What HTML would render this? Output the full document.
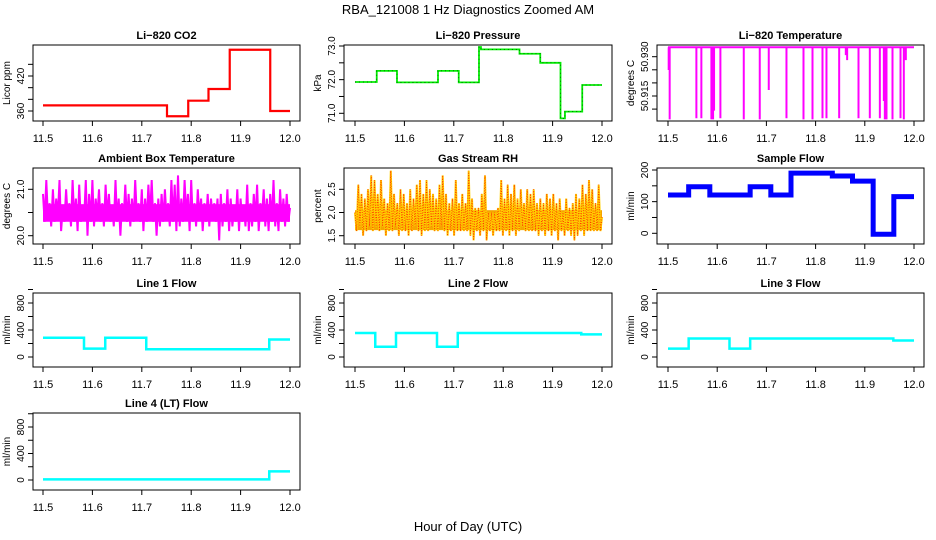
<!DOCTYPE html>
<html><head><meta charset="utf-8"><style>
html,body{margin:0;padding:0;background:#fff;}
svg{display:block;font-family:"Liberation Sans",Helvetica,sans-serif;}
</style></head><body>
<svg id="c" width="936" height="540" viewBox="0 0 936 540">
<text x="468" y="14" text-anchor="middle" font-size="13">RBA_121008  1 Hz Diagnostics Zoomed AM</text>
<text x="468" y="531" text-anchor="middle" font-size="13">Hour of Day (UTC)</text>
</svg>
<script>
const xTicks=[11.5,11.6,11.7,11.8,11.9,12.0];
const xTickLabels=["11.5","11.6","11.7","11.8","11.9","12.0"];
const co2Times=[11.5,11.751,11.794,11.835,11.878,11.960,12.0];
const co2Values=[369.7,351,377.7,397.7,465,360];
const presTimes=[11.5,11.544,11.585,11.668,11.710,11.751,11.755,11.833,11.875,11.916,11.925,11.960,12.0];
const presValues=[71.93,72.26,71.92,72.26,71.92,72.97,72.90,72.77,72.50,70.85,71.05,71.84];
const tempSpikeTimes=[11.5014,11.5034,11.5577,11.5678,11.5882,11.5916,11.5936,11.6065,11.6540,11.6865,11.7048,11.7408,11.7754,11.7937,11.8140,11.8221,11.8479,11.8614,11.8641,11.8872,11.9102,11.9306,11.9387,11.9407,11.9441,11.9563,11.9726,11.9793,11.9834];
const tempSpikeValues=[50.9249,50.9061,50.9065,50.9065,50.9061,50.9061,50.9094,50.9065,50.9061,50.9061,50.9173,50.9065,50.9061,50.9061,50.9065,50.9065,50.9065,50.9306,50.9287,50.9065,50.9065,50.9065,50.9131,50.9061,50.9061,50.9061,50.9065,50.9061,50.9287];
const tempBase=50.9336;
const ambientValues=[20.9,20.3,21.2,20.4,20.7,20.2,21.0,20.3,20.8,20.4,21.2,20.1,20.6,20.3,21.0,20.4,20.7,20.2,21.2,20.3,20.8,20.1,21.1,20.3,20.6,20.4,21.2,20.0,20.9,20.3,21.2,20.2,20.8,20.4,21.0,20.3,20.7,20.2,21.1,20.4,20.9,20.3,20.6,20.2,21.2,20.3,20.8,20.0,20.7,20.4,21.1,20.3,20.9,20.2,20.8,20.3,21.2,20.4,20.7,20.3,21.0,20.1,20.8,20.3,21.1,20.4,21.2,20.3,20.7,20.0,20.8,20.2,20.9,20.3,21.0,20.4,20.7,20.2,21.2,20.3,21.1,20.1,21.3,20.2,20.8,20.3,21.2,20.4,20.9,20.1,21.2,20.3,20.7,20.2,21.0,20.4,20.8,20.1,20.7,20.3,20.9,20.2,20.8,20.4,20.7,20.3,20.8,19.9,20.9,20.2,20.7,20.3,21.0,20.1,20.8,20.2,20.6,20.3,21.0,20.1,20.8,20.3,20.6,20.2,21.1,20.1,20.7,20.2,20.9,20.3,21.1,20.1,20.7,20.4,21.0,20.2,20.8,20.1,20.9,20.3,21.2,20.2,20.7,20.1,21.0,20.3,20.8,20.2,20.9,20.3,20.6];
const ambientBand=[20.3,20.68];
const rhValues=[2.0,1.6,2.6,1.7,2.4,1.5,2.3,1.6,2.5,1.7,2.8,1.6,2.7,1.7,2.4,1.6,2.7,1.7,2.3,1.5,2.2,1.6,2.9,1.6,2.4,1.7,2.2,1.5,2.5,1.6,2.4,1.6,2.2,1.5,2.5,1.6,2.3,1.7,2.6,1.6,2.7,1.5,2.4,1.6,2.7,1.6,2.5,1.7,2.4,1.6,2.3,1.6,2.6,1.7,2.8,1.6,2.4,1.5,2.2,1.6,2.3,1.5,2.7,1.6,2.2,1.6,2.4,1.6,2.2,1.6,2.9,1.5,2.3,1.4,2.1,1.6,2.1,1.5,2.4,1.6,2.8,1.4,2.0,1.6,2.0,1.5,2.0,1.6,2.1,1.6,2.7,1.5,2.3,1.6,2.6,1.5,2.4,1.6,2.6,1.5,2.3,1.6,2.5,1.7,2.2,1.6,2.5,1.6,2.4,1.6,2.5,1.6,2.2,1.5,2.3,1.6,2.2,1.5,2.4,1.6,2.3,1.5,2.4,1.6,2.2,1.4,2.3,1.6,2.0,1.5,2.3,1.6,2.1,1.5,2.2,1.4,2.4,1.5,2.3,1.6,2.6,1.5,2.4,1.6,2.7,1.6,2.5,1.6,2.2,1.6,2.6,1.6,1.9];
const rhBand=[1.62,2.05];
const sampleTimes=[11.5,11.542,11.585,11.667,11.709,11.750,11.834,11.875,11.917,11.959,12.0];
const sampleValues=[121,147,121,147,121,190,181,165,-3,116];
const line1Times=[11.5,11.583,11.626,11.709,11.958,12.0];
const line1Values=[286,125,286,114,260];
const line2Times=[11.5,11.541,11.583,11.666,11.708,11.958,12.0];
const line2Values=[355,151,355,151,355,335];
const line3Times=[11.5,11.542,11.625,11.667,11.958,12.0];
const line3Values=[125,275,125,275,245];
const line4Times=[11.5,11.958,12.0];
const line4Values=[10,130];

const NS="http://www.w3.org/2000/svg";
const svg=document.getElementById('c');
function mk(tag,attrs,parent){const e=document.createElementNS(NS,tag);for(const k in attrs)e.setAttribute(k,attrs[k]);(parent||svg).appendChild(e);return e;}
const cols=[{l:33,r:300,a:43,b:290},{l:344,r:612,a:355,b:602},{l:657,r:924,a:668,b:914}];
const rows=[{t:45,b:121},{t:168,b:244},{t:293,b:367},{t:413,b:490}];

function panel(key,title,col,row,ref,ticks,labels,ylab){
  const C=cols[col],R=rows[row];
  const g=mk('g',{});
  
  
  const xs=t=>C.a+(t-11.5)/(0.5)*(C.b-C.a);
  const ys=v=>ref[1]+(v-ref[0])*(ref[3]-ref[1])/(ref[2]-ref[0]);
  const t=mk('text',{x:(C.l+C.r)/2,y:R.t-6,'text-anchor':'middle','font-size':11,'font-weight':'bold'},g);
  t.textContent=title;
  
  
  const plot=mk('g',{'clip-path':'url(#clip'+col+row+')'},g);
  
  
  const cp=mk('clipPath',{id:'clip'+col+row},g);
  mk('rect',{x:C.l,y:R.t,width:C.r-C.l,height:R.b-R.t},cp);
  const box=mk('rect',{x:C.l,y:R.t,width:C.r-C.l,height:R.b-R.t,fill:'none',stroke:'#000','stroke-width':1},g);
  
  
  const xa=mk('g',{},g);
  
  
  xTicks.forEach((v,i)=>{const x=xs(v);mk('line',{x1:x,x2:x,y1:R.b,y2:R.b+5,stroke:'#000'},xa);
    const l=mk('text',{x:x,y:R.b+21,'text-anchor':'middle','font-size':11},xa);l.textContent=xTickLabels[i];});
  const ya=mk('g',{},g);
  
  
  ticks.forEach((v)=>{const y=ys(v);mk('line',{x1:C.l-5,x2:C.l,y1:y,y2:y,stroke:'#000'},ya);});
  labels.forEach(([v,s])=>{const y=ys(v);const l=mk('text',{x:C.l-9,y:y,'text-anchor':'middle','font-size':10,transform:`rotate(-90 ${C.l-9} ${y})`},ya);l.textContent=s;});
  const yl=mk('text',{x:C.l-23,y:(R.t+R.b)/2,'text-anchor':'middle','font-size':10,transform:`rotate(-90 ${C.l-23} ${(R.t+R.b)/2})`},g);
  yl.textContent=ylab;
  
  
  return {xs,ys,plot};
}
function stepPath(P,times,vals,color,w,extra){
  let d=`M${P.xs(times[0])},${P.ys(vals[0])}`;
  for(let i=0;i<vals.length;i++){ if(i>0)d+=`V${P.ys(vals[i])}`; d+=`H${P.xs(times[i+1])}`;}
  const p=mk('path',Object.assign({d:d,fill:'none',stroke:color,'stroke-width':w},extra||{}),P.plot);
  
  
}
function noisyPath(P,vals,color,w,extra){
  const n=vals.length;
  const pts=vals.map((v,i)=>`${P.xs(11.5+0.5*i/(n-1)).toFixed(1)},${P.ys(v).toFixed(1)}`).join(' ');
  const p=mk('polyline',Object.assign({points:pts,fill:'none',stroke:color,'stroke-width':w},extra||{}),P.plot);
  
  
}
function band(P,b,color){
  const r=mk('rect',{x:P.xs(11.5),width:P.xs(12.0)-P.xs(11.5),y:P.ys(b[1]),height:P.ys(b[0])-P.ys(b[1]),fill:color},P.plot);
  
  
}
// CO2
let P=panel('co2','Li−820 CO2',0,0,[360,111,420,76],[360,380,400,420,440],[[360,'360'],[420,'420']],'Licor ppm');
stepPath(P,co2Times,co2Values,'#ff0000',2.2);
// Pressure
P=panel('pressure','Li−820 Pressure',1,0,[71,113.3,73,46],[71,71.5,72,72.5,73],[[71,'71.0'],[72,'72.0'],[73,'73.0']],'kPa');
stepPath(P,presTimes,presValues,'#00ee00',1.8);
stepPath(P,presTimes,presValues,'#004400',0.7,{'stroke-dasharray':'1 3'});
// Temperature
P=panel('temperature','Li−820 Temperature',2,0,[50.915,96,50.930,56.7],[50.910,50.915,50.920,50.925,50.930],[[50.915,'50.915'],[50.930,'50.930']],'degrees C');
(function(){let d=`M${P.xs(11.5)},${P.ys(tempBase)}H${P.xs(12.0)}`;
 tempSpikeTimes.forEach((t,i)=>{const x=P.xs(t);d+=`M${x},${P.ys(tempBase)}V${P.ys(tempSpikeValues[i])}`;});
 const p=mk('path',{d:d,fill:'none',stroke:'#ff00ff','stroke-width':2},P.plot);
 
 })();
// Ambient
P=panel('ambient','Ambient Box Temperature',0,1,[20,235.7,21,189.3],[20,20.5,21],[[20,'20.0'],[21,'21.0']],'degrees C');
band(P,ambientBand,'#ff00ff');
noisyPath(P,ambientValues,'#ff00ff',2);
// RH
P=panel('rh','Gas Stream RH',1,1,[1.5,235.7,2.5,189.3],[1.5,2,2.5],[[1.5,'1.5'],[2,'2.0'],[2.5,'2.5']],'percent');
band(P,rhBand,'#f5a500');
noisyPath(P,rhValues,'#ffd000',2);
noisyPath(P,rhValues,'#ff2000',0.8,{'stroke-dasharray':'1 1.5'});
// Sample flow
P=panel('sample-flow','Sample Flow',2,1,[0,233.3,200,170],[0,50,100,150,200],[[0,'0'],[100,'100'],[200,'200']],'ml/min');
stepPath(P,sampleTimes,sampleValues,'#0000ff',5);
// Line flows
const flowTicks=[0,200,400,600,800,1000],flowLabels=[[0,'0'],[400,'400'],[800,'800']];
P=panel('line1-flow','Line 1 Flow',0,2,[0,357,800,303],flowTicks,flowLabels,'ml/min');
stepPath(P,line1Times,line1Values,'#00ffff',2.5);
P=panel('line2-flow','Line 2 Flow',1,2,[0,357,800,303],flowTicks,flowLabels,'ml/min');
stepPath(P,line2Times,line2Values,'#00ffff',2.5);
P=panel('line3-flow','Line 3 Flow',2,2,[0,357,800,303],flowTicks,flowLabels,'ml/min');
stepPath(P,line3Times,line3Values,'#00ffff',2.5);
P=panel('line4-flow','Line 4 (LT) Flow',0,3,[0,480,800,427],flowTicks,flowLabels,'ml/min');
stepPath(P,line4Times,line4Values,'#00ffff',2.5);
</script>
</body></html>
